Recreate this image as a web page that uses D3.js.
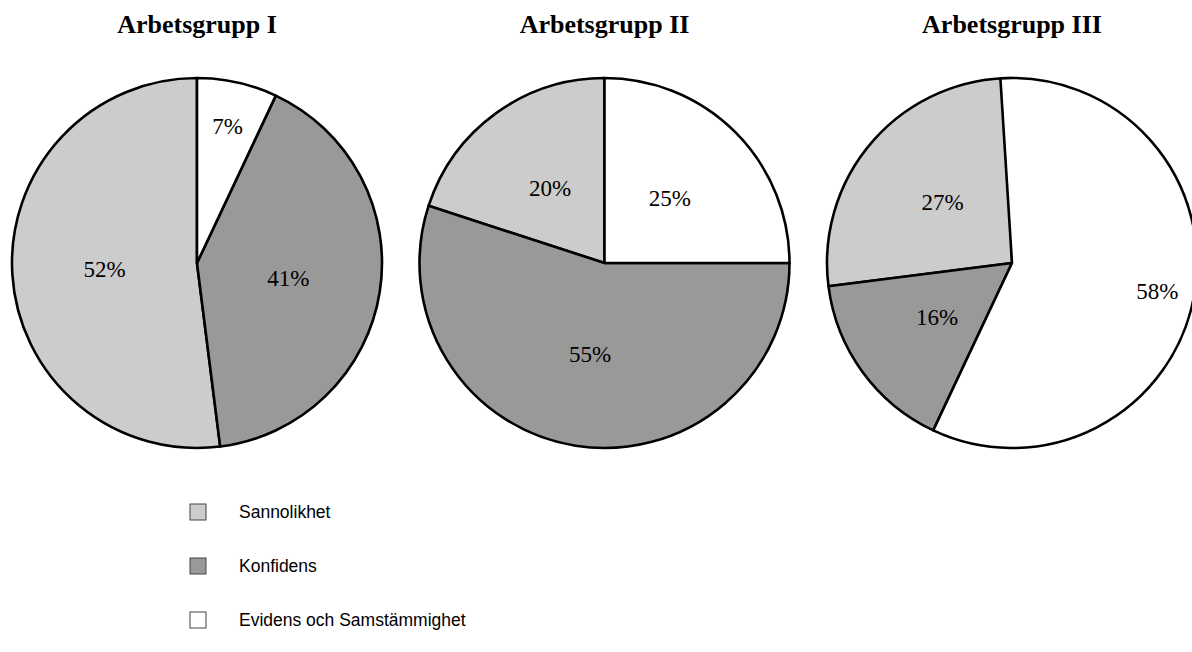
<!DOCTYPE html>
<html>
<head>
<meta charset="utf-8">
<script src="https://cdn.jsdelivr.net/npm/d3@7"></script>
<style>
  body { margin: 0; background: #fff; }
  .title { font-family: "Liberation Serif", serif; font-weight: bold; font-size: 26px; }
  .pct { font-family: "Liberation Serif", serif; font-size: 23px; }
  .legend text { font-family: "Liberation Sans", Arial, sans-serif; font-size: 17.5px; }
</style>
</head>
<body>
<div id="chart"></div>
<script>
// data
let groups = ["Arbetsgrupp I", "Arbetsgrupp II", "Arbetsgrupp III"];
let categories = ["Sannolikhet", "Konfidens", "Evidens och Samstämmighet"];
let sannolikhet = [52, 20, 27];
let konfidens = [41, 55, 16];
let evidens = [7, 25, 58];

let colors = ["#cccccc", "#999999", "#ffffff"];

var width = 1192, height = 652;
var svg = d3.select("#chart").append("svg")
  .attr("width", width).attr("height", height);

var radius = 185;
var xPos = d3.scalePoint().domain(groups).range([197, 1012]);
var cy = 263;

// slices go counterclockwise from 12 o'clock, percent values as given (may sum to 101)
var angle = d3.scaleLinear().domain([0, 100]).range([0, -2 * Math.PI]);
var arc = d3.arc().innerRadius(0).outerRadius(radius);

// label distance like pgf-pie: small and very large slices get the number further out
function labelDist(p) {
  if (p < 10) return 0.76;
  if (p > 56) return 0.8;
  return 0.5;
}

groups.forEach(function (g, i) {
  var vals = [sannolikhet[i], konfidens[i], evidens[i]];
  var start = 0;
  var slices = vals.map(function (v, k) {
    var s = { value: v, cat: k, startAngle: angle(start), endAngle: angle(start + v) };
    start += v;
    return s;
  });

  var grp = svg.append("g")
    .attr("transform", `translate(${xPos(g)}, ${cy})`);

  grp.selectAll("path")
    .data(slices)
    .enter()
    .append("path")
    .attr("d", d => arc({ startAngle: d.endAngle, endAngle: d.startAngle }))
    .attr("fill", d => colors[d.cat])
    .attr("stroke", "#000")
    .attr("stroke-width", 2.6)
    .attr("stroke-linejoin", "round");

  grp.selectAll("text")
    .data(slices)
    .enter()
    .append("text")
    .attr("class", "pct")
    .attr("text-anchor", "middle")
    .attr("dy", "0.35em")
    .attr("transform", function (d) {
      var r = radius * labelDist(d.value);
      var c = d3.arc().innerRadius(r).outerRadius(r)
        .centroid({ startAngle: d.endAngle, endAngle: d.startAngle });
      return `translate(${c[0]}, ${c[1]})`;
    })
    .text(d => d.value + "%");

  svg.append("text")
    .attr("class", "title")
    .attr("x", xPos(g))
    .attr("y", 33)
    .attr("text-anchor", "middle")
    .text(g);
});

// legend
var yLeg = d3.scalePoint().domain(categories).range([512, 620]);
var legend = svg.append("g").attr("class", "legend");
legend.selectAll("rect")
  .data(categories)
  .enter()
  .append("rect")
  .attr("x", 190)
  .attr("y", d => yLeg(d) - 8)
  .attr("width", 16)
  .attr("height", 16)
  .attr("fill", (d, i) => colors[i])
  .attr("stroke", "#444")
  .attr("stroke-width", 1);
legend.selectAll("text")
  .data(categories)
  .enter()
  .append("text")
  .attr("x", 239)
  .attr("y", d => yLeg(d))
  .attr("dy", "0.35em")
  .text(d => d);
</script>
</body>
</html>
